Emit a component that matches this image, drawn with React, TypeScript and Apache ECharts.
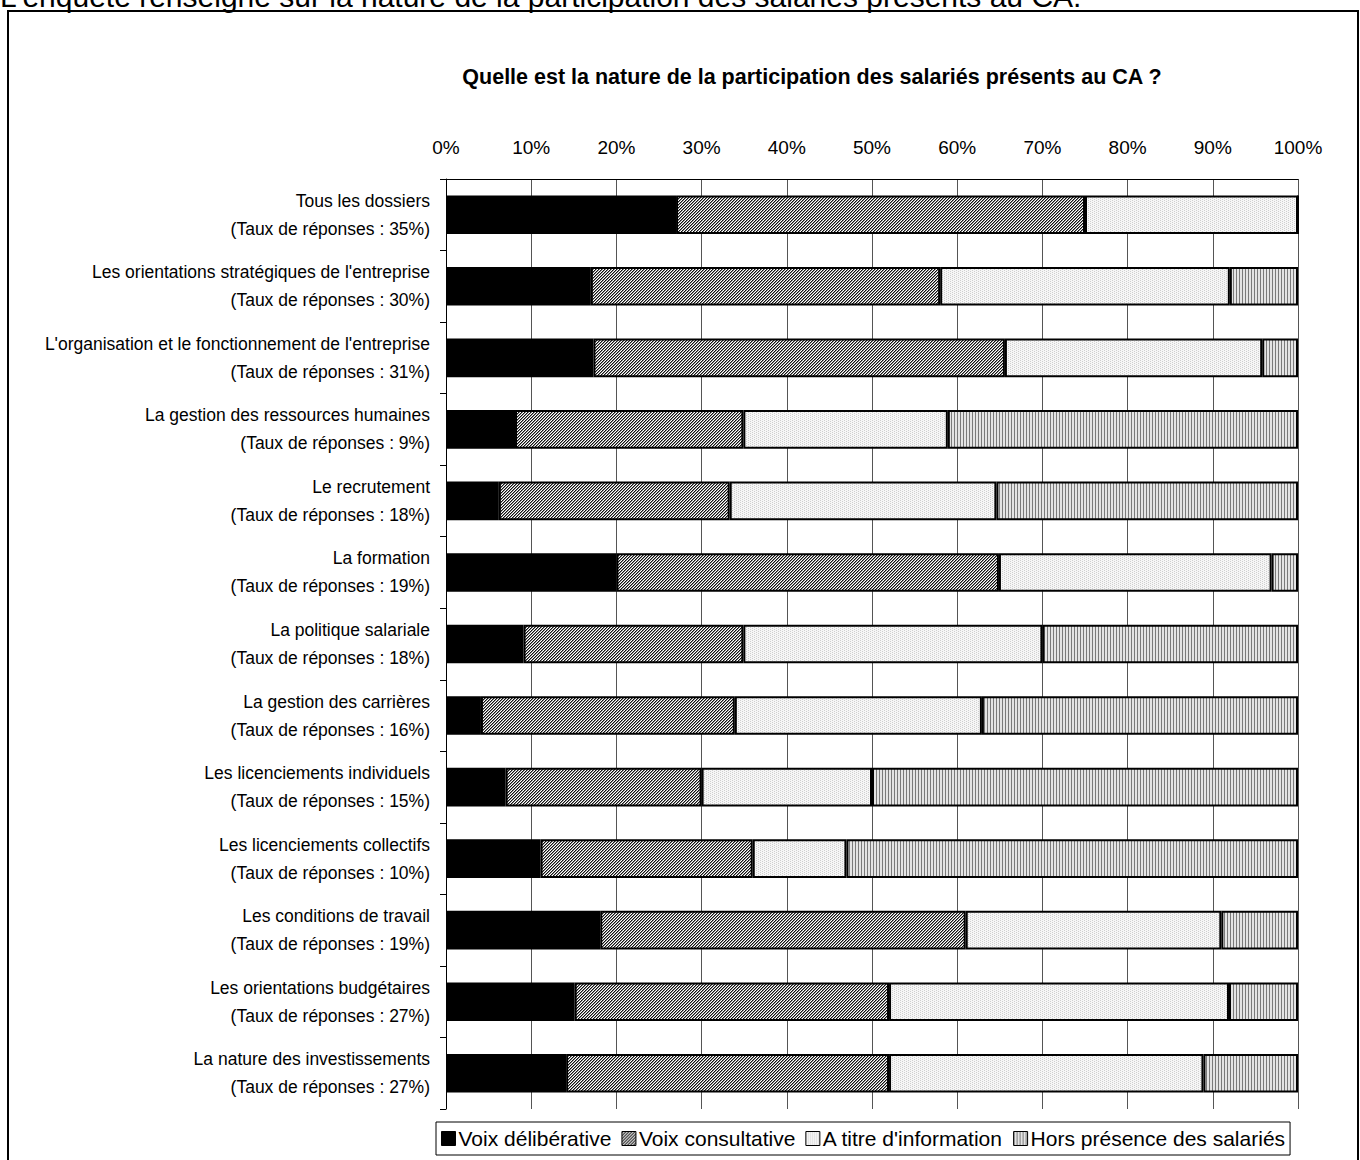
import React, { useEffect, useRef } from "react";
import * as echarts from "echarts";

// Thèmes soumis au CA (ordre d'affichage, de haut en bas)
const categories: string[] = [
  "Tous les dossiers",
  "Les orientations stratégiques de l'entreprise",
  "L'organisation et le fonctionnement de l'entreprise",
  "La gestion des ressources humaines",
  "Le recrutement",
  "La formation",
  "La politique salariale",
  "La gestion des carrières",
  "Les licenciements individuels",
  "Les licenciements collectifs",
  "Les conditions de travail",
  "Les orientations budgétaires",
  "La nature des investissements",
];

// Taux de réponses par thème (%)
const responseRates: number[] = [35, 30, 31, 9, 18, 19, 18, 16, 15, 10, 19, 27, 27];

// Répartition (%) par nature de participation
const voixDeliberative: number[] = [27, 17, 17.3, 8.1, 6.2, 20, 9.1, 4.1, 7, 11.1, 18.1, 15.1, 14.1];
const voixConsultative: number[] = [48, 41, 48.3, 26.8, 27.1, 44.9, 25.8, 29.8, 23, 24.9, 42.9, 36.9, 37.9];
const titreInformation: number[] = [25, 34, 30.2, 24, 31.3, 32, 35.1, 29, 20, 11, 30, 39.9, 36.9];
const horsPresence: number[] = [0, 8, 4.2, 41.1, 35.4, 3.1, 30, 37.1, 50, 53, 9, 8.1, 11.1];

const seriesNames: string[] = [
  "Voix délibérative",
  "Voix consultative",
  "A titre d'information",
  "Hors présence des salariés",
];

const SANS = "'Liberation Sans', Arial, sans-serif";

function makeTile(w: number, h: number, draw: (ctx: CanvasRenderingContext2D) => void) {
  const c = document.createElement("canvas");
  c.width = w;
  c.height = h;
  const ctx = c.getContext("2d")!;
  draw(ctx);
  return c;
}

function patterns() {
  // fine diagonal hatch
  const hatch = makeTile(3, 3, (ctx) => {
    ctx.fillStyle = "#ffffff";
    ctx.fillRect(0, 0, 3, 3);
    for (let x = 0; x < 3; x++) {
      for (let y = 0; y < 3; y++) {
        const s = (x + y) % 3;
        if (s === 0) {
          ctx.fillStyle = "#111111";
          ctx.fillRect(x, y, 1, 1);
        } else if (s === 1) {
          ctx.fillStyle = "#8a8a8a";
          ctx.fillRect(x, y, 1, 1);
        }
      }
    }
  });
  // light dotted fill
  const dots = makeTile(4, 4, (ctx) => {
    ctx.fillStyle = "#f6f6f6";
    ctx.fillRect(0, 0, 4, 4);
    ctx.fillStyle = "#cfcfcf";
    ctx.fillRect(0, 0, 1, 1);
    ctx.fillRect(0, 2, 1, 1);
    ctx.fillRect(2, 1, 1, 1);
    ctx.fillRect(2, 3, 1, 1);
  });
  // vertical stripes
  const stripes = makeTile(3, 2, (ctx) => {
    ctx.fillStyle = "#e4e4e4";
    ctx.fillRect(0, 0, 3, 2);
    ctx.fillStyle = "#7a7a7a";
    ctx.fillRect(0, 0, 1, 2);
  });
  return { hatch, dots, stripes };
}

export default function App() {
  const ref = useRef<HTMLDivElement>(null);

  useEffect(() => {
    document.body.style.margin = "0";
    if (!ref.current) return;
    const chart = echarts.init(ref.current, undefined, { renderer: "svg" });
    const p = patterns();
    const fills: any[] = [
      "#000000",
      { image: p.hatch, repeat: "repeat" },
      { image: p.dots, repeat: "repeat" },
      { image: p.stripes, repeat: "repeat" },
    ];
    const datasets = [voixDeliberative, voixConsultative, titreInformation, horsPresence];

    chart.setOption({
      animation: false,
      backgroundColor: "#ffffff",
      title: {
        text: "Quelle est la nature de la participation des salariés présents au CA ?",
        left: 807,
        textAlign: "center",
        top: 61,
        textStyle: { fontFamily: SANS, fontWeight: "bold", fontSize: 21.5, color: "#000" },
      },
      graphic: [
        {
          type: "rect",
          shape: { x: 8, y: 11, width: 1350, height: 1170 },
          style: { fill: "none", stroke: "#000", lineWidth: 2 },
          silent: true,
        },
        {
          type: "text",
          x: 0,
          y: -3.5,
          style: {
            text: "L'enquête renseigne sur la nature de la participation des salariés présents au CA.",
            font: "30px 'Liberation Sans', Arial, sans-serif",
            fill: "#000",
            textVerticalAlign: "middle",
          },
          silent: true,
        },
      ],
      legend: {
        left: 436,
        top: 1122,
        orient: "horizontal",
        icon: "rect",
        itemWidth: 14,
        itemHeight: 14,
        itemGap: 10,
        padding: [6, 5, 6, 5],
        borderColor: "#000",
        borderWidth: 1,
        data: seriesNames,
        itemStyle: { borderColor: "#000", borderWidth: 1 },
        textStyle: { fontFamily: SANS, fontSize: 21, color: "#000", padding: [0, 0, 0, -2] },
      },
      grid: {
        left: 446,
        right: 62,
        top: 179,
        bottom: 51,
        containLabel: false,
        outerBoundsMode: "none",
      },
      xAxis: {
        type: "value",
        position: "top",
        min: 0,
        max: 100,
        interval: 10,
        axisLine: { show: true, lineStyle: { color: "#000", width: 1 } },
        axisTick: { show: false },
        axisLabel: {
          formatter: "{value}%",
          fontFamily: SANS,
          fontSize: 19,
          color: "#000",
          margin: 22,
        },
        splitLine: { show: true, lineStyle: { color: "#555", width: 1 } },
      },
      yAxis: {
        type: "category",
        inverse: true,
        data: categories,
        axisLine: { show: true, lineStyle: { color: "#000", width: 1 } },
        axisTick: { show: true, length: 6, lineStyle: { color: "#000" } },
        axisLabel: {
          fontFamily: SANS,
          fontSize: 17.5,
          lineHeight: 28,
          color: "#000",
          margin: 16,
          align: "right",
          formatter: (value: string, idx: number) =>
            `${value}\n(Taux de réponses : ${responseRates[idx]}%)`,
        },
      },
      series: seriesNames.map((name, i) => ({
        name,
        type: "bar",
        stack: "total",
        barWidth: "54%",
        data: datasets[i],
        itemStyle: { color: fills[i], borderColor: "#000", borderWidth: 2 },
        emphasis: { disabled: true },
      })),
    });

    return () => chart.dispose();
  }, []);

  return <div ref={ref} style={{ width: 1360, height: 1160 }} />;
}
